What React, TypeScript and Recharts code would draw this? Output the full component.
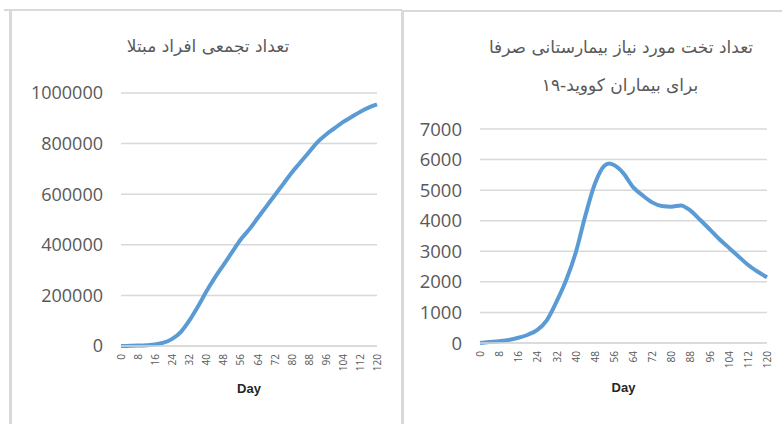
import React from 'react';
import { LineChart, Line, XAxis, YAxis, CartesianGrid } from 'recharts';

const dayTicks = [0, 8, 16, 24, 32, 40, 48, 56, 64, 72, 80, 88, 96, 104, 112, 120];
const casesTicks = [0, 200000, 400000, 600000, 800000, 1000000];
const bedsTicks = [0, 1000, 2000, 3000, 4000, 5000, 6000, 7000];

const casesDays = [0, 4, 8, 12, 16, 20, 24, 28, 32, 36, 40, 44, 48, 52, 56, 60, 64, 68, 72, 76, 80, 84, 88, 92, 96, 100, 104, 108, 112, 116, 120];
const casesValues = [0, 500, 1500, 3000, 6000, 13000, 28000, 55000, 100000, 155000, 215000, 270000, 320000, 370000, 420000, 460000, 505000, 550000, 595000, 640000, 685000, 725000, 765000, 805000, 835000, 860000, 885000, 905000, 925000, 942000, 955000];

const bedsDays = [0, 4, 8, 12, 16, 20, 24, 28, 32, 36, 40, 44, 48, 52, 54, 56, 60, 64, 68, 72, 76, 80, 84, 88, 92, 96, 100, 104, 108, 112, 116, 120];
const bedsValues = [0, 30, 60, 100, 170, 270, 430, 750, 1350, 2050, 2950, 4150, 5200, 5800, 5870, 5820, 5550, 5100, 4830, 4600, 4480, 4460, 4500, 4330, 4030, 3720, 3400, 3120, 2840, 2560, 2340, 2150];

const casesData = casesDays.map((d, i) => ({ day: d, value: casesValues[i] }));
const bedsData = bedsDays.map((d, i) => ({ day: d, value: bedsValues[i] }));

const GRAY = '#d9d9d9';
const TEXT = '#595959';
const BLUE = '#5b9bd5';

const RotTick = (props: any) => {
  const { x, y, payload } = props;
  return (
    <text
      x={x}
      y={y}
      transform={`rotate(-90 ${x} ${y})`}
      textAnchor="end"
      dominantBaseline="central"
      fontSize={10}
      fontFamily="Open Sans"
      fill={TEXT}
    >
      {payload.value}
    </text>
  );
};

const yTickStyle = { fontSize: 18, fontFamily: 'Open Sans', fill: TEXT };

const dayLabel = (offset: number) => ({
  value: 'Day',
  position: 'bottom' as const,
  offset,
  style: { fontSize: 13, fontWeight: 'bold', fontFamily: 'Liberation Sans', fill: '#262626' },
});

const titleStyle: React.CSSProperties = {
  position: 'absolute',
  direction: 'rtl',
  textAlign: 'center',
  fontFamily: 'DejaVu Sans',
  fontSize: 17,
  color: TEXT,
  lineHeight: '20px',
  whiteSpace: 'nowrap',
};

export default function App() {
  return (
    <div style={{ position: 'absolute', left: 0, top: 0, width: 782, height: 424, background: '#fff', overflow: 'hidden' }}>
      <div style={{ position: 'absolute', left: 4, top: 9, width: 398, height: 2, background: GRAY }} />
      <div style={{ position: 'absolute', left: 9, top: 9, width: 3, height: 415, background: GRAY }} />
      <div style={{ position: 'absolute', left: 402, top: 10, width: 380, height: 2, background: GRAY }} />
      <div style={{ position: 'absolute', left: 401, top: 10, width: 3, height: 414, background: GRAY }} />

      <div style={{ ...titleStyle, left: 58, width: 300, top: 36 }}>تعداد تجمعی افراد مبتلا</div>
      <div style={{ ...titleStyle, left: 471, width: 300, top: 37 }}>تعداد تخت مورد نیاز بیمارستانی صرفا</div>
      <div style={{ ...titleStyle, left: 470, width: 300, top: 75 }}>برای بیماران کووید-۱۹</div>

      <div style={{ position: 'absolute', left: 0, top: 0 }}>
        <LineChart width={400} height={424} data={casesData} margin={{ top: 93, right: 23, bottom: 38, left: 0 }}>
          <CartesianGrid vertical={false} stroke={GRAY} strokeWidth={1.5} />
          <XAxis
            dataKey="day"
            type="number"
            domain={[0, 120]}
            ticks={dayTicks}
            interval={0}
            height={40}
            tickLine={false}
            axisLine={{ stroke: GRAY, strokeWidth: 1.5 }}
            tick={<RotTick />}
            label={dayLabel(-2)}
          />
          <YAxis
            type="number"
            domain={[0, 1000000]}
            ticks={casesTicks}
            width={121}
            tickLine={false}
            axisLine={false}
            tickMargin={12}
            tick={yTickStyle}
          />
          <Line dataKey="value" stroke={BLUE} strokeWidth={4} dot={false} isAnimationActive={false} type="monotone" />
        </LineChart>
      </div>

      <div style={{ position: 'absolute', left: 402, top: 0 }}>
        <LineChart width={380} height={424} data={bedsData} margin={{ top: 129, right: 15, bottom: 41, left: 0 }}>
          <CartesianGrid vertical={false} stroke={GRAY} strokeWidth={1.5} />
          <XAxis
            dataKey="day"
            type="number"
            domain={[0, 120]}
            ticks={dayTicks}
            interval={0}
            height={40}
            tickLine={false}
            axisLine={{ stroke: GRAY, strokeWidth: 1.5 }}
            tick={<RotTick />}
            label={dayLabel(0)}
          />
          <YAxis
            type="number"
            domain={[0, 7000]}
            ticks={bedsTicks}
            width={78}
            tickLine={false}
            axisLine={false}
            tickMargin={12}
            tick={{ ...yTickStyle, fontSize: 18.5 }}
          />
          <Line dataKey="value" stroke={BLUE} strokeWidth={4} dot={false} isAnimationActive={false} type="monotone" />
        </LineChart>
      </div>
    </div>
  );
}
